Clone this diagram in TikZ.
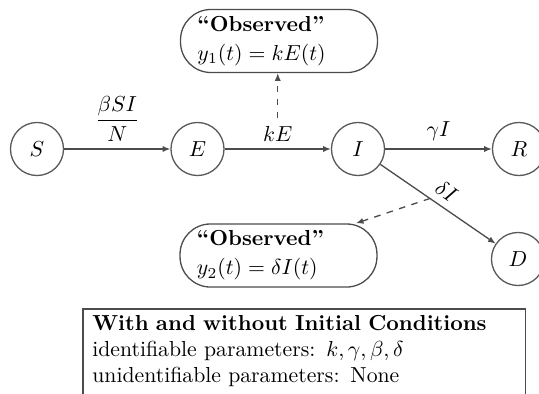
\documentclass[tikz,border=0pt]{standalone}
\usetikzlibrary{arrows.meta}
\begin{document}
\begin{tikzpicture}[x=0.46pt,y=-0.46pt,
  state/.style={circle,draw=black!65,line width=0.6pt,minimum size=24.4pt,inner sep=0pt},
  flow/.style={draw=black!70,line width=0.6pt,-{Latex[length=3.5pt,width=2.8pt]}},
  obs/.style={draw=black!70,line width=0.6pt,rounded corners=14pt,minimum height=29pt,
    text width=75pt,inner xsep=7.8pt,inner ysep=2pt,align=left},
  obsline/.style={draw=black!70,line width=0.6pt,dashed,-{Latex[length=3.5pt,width=2.8pt]}},
  frame/.style={draw=black!70,line width=0.6pt},
  info/.style={text width=195pt,inner xsep=4.1pt,inner ysep=2.8pt,align=left}]
\useasboundingbox (0,0) rectangle (539,393);
\node[state] (S) at (37,149) {$S$};
\node[state] (E) at (197.5,149) {$E$};
\node[state] (I) at (358,149) {$I$};
\node[state] (R) at (519,149) {$R$};
\node[state] (D) at (518,259) {$D$};
\node[obs] (obs1) at (279,41) {\textbf{``Observed''}\\[1.3pt]$y_1(t)=kE(t)$};
\node[obs] (obs2) at (278.5,255.5) {\textbf{``Observed''}\\[1.3pt]$y_2(t)=\delta I(t)$};
\draw[flow] (S) -- node[above] (l1) {$\displaystyle\frac{\beta SI}{N}$} (E);
\draw[flow] (E) -- node[above] (l2) {$kE$} (I);
\draw[flow] (I) -- node[above] (l3) {$\gamma I$} (R);
\draw[flow] (I) -- node[above,sloped] (l4) {$\delta I$} coordinate[pos=0.43] (c2) (D);
\draw[obsline] (l2.north) -- (l2.north |- obs1.south);
\draw[obsline] (c2) -- ([xshift=-10pt]obs2.north east);
\node[info,anchor=north west] (infobox) at (83,309) {\textbf{With and without Initial Conditions}\\
identifiable parameters: $k,\gamma,\beta,\delta$\\
unidentifiable parameters: None};
\draw[frame] ([yshift=-30pt]infobox.south west) -- (infobox.north west) -- (infobox.north east) -- ([yshift=-30pt]infobox.south east);
\end{tikzpicture}
\end{document}
